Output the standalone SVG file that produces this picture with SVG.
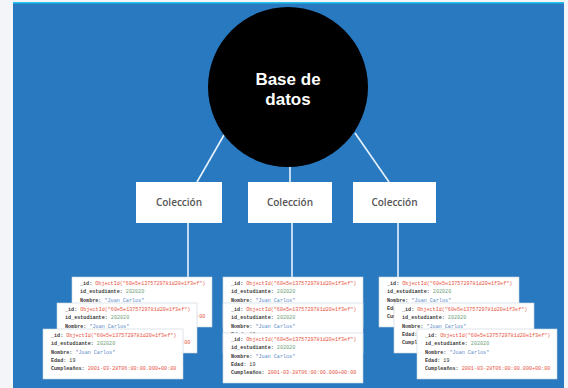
<svg xmlns="http://www.w3.org/2000/svg" width="568" height="388" viewBox="0 0 568 388">
<defs>
<style>
.conn{stroke:#e6f2fb;stroke-width:1.6;fill:none}
.box{fill:#ffffff}
.lbl{font-family:"Open Sans","Liberation Sans",sans-serif;font-size:10px;font-weight:600;fill:#555555;text-anchor:middle}
.card{fill:#ffffff;stroke:#c9d3dd;stroke-width:0.6}
.doc{font-family:"Liberation Mono","DejaVu Sans Mono",monospace;font-size:5.1px;fill:#3a3a3a}
.k{font-weight:bold}
.r{fill:#e8553f}
.g{fill:#6f9f7a}
.b{fill:#5b8bc7}
.big{font-family:"Liberation Sans",Arial,sans-serif;font-size:17px;font-weight:bold;fill:#ffffff;text-anchor:middle}
</style>
<g id="docTpl">
<rect class="card" x="0" y="0" width="140" height="50"/>
<text class="doc" x="8" y="8"><tspan class="k">_id:</tspan> <tspan class="r">ObjectId("60e5e1375729781d20e1f3ef")</tspan></text>
<text class="doc" x="8" y="16.3"><tspan class="k">id_estudiante:</tspan> <tspan class="g">202020</tspan></text>
<text class="doc" x="8" y="24.6"><tspan class="k">Nombre:</tspan> <tspan class="b">"Juan Carlos"</tspan></text>
<text class="doc" x="8" y="32.9"><tspan class="k">Edad:</tspan> 19</text>
<text class="doc" x="8" y="41.2"><tspan class="k">Cumpleaños:</tspan> <tspan class="r">2001-03-28T06:00:00.000+00:00</tspan></text>
</g>
</defs>
<rect x="0" y="0" width="568" height="388" fill="#f4f5f9"/>
<rect x="13" y="2" width="551" height="386" fill="#2979c1"/>
<rect x="13" y="2" width="551" height="1.5" fill="#22c3ea"/>

<g id="connectors">
<line class="conn" x1="224" y1="135" x2="197" y2="182"/>
<line class="conn" x1="290" y1="166" x2="290" y2="182"/>
<line class="conn" x1="355" y1="133" x2="389" y2="182"/>
<line class="conn" x1="188" y1="223" x2="188" y2="277"/>
<line class="conn" x1="292" y1="223" x2="292" y2="277"/>
<line class="conn" x1="398" y1="223" x2="398" y2="277"/>
</g>

<g id="db">
<circle cx="288" cy="87" r="80" fill="#000000"/>
<text class="big" x="288" y="85">Base de</text>
<text class="big" x="288" y="104.5">datos</text>
</g>

<g id="col1"><rect class="box" x="136" y="182" width="86" height="41"/><text class="lbl" x="179" y="206">Colección</text></g>
<g id="col2"><rect class="box" x="248" y="182" width="84" height="41"/><text class="lbl" x="290" y="206">Colección</text></g>
<g id="col3"><rect class="box" x="353" y="182" width="83" height="41"/><text class="lbl" x="394.5" y="206">Colección</text></g>

<g id="docs1">
<use href="#docTpl" x="72" y="277"/>
<use href="#docTpl" x="57" y="303"/>
<use href="#docTpl" x="43" y="329"/>
</g>
<g id="docs2">
<use href="#docTpl" x="223" y="277"/>
<use href="#docTpl" x="223" y="303"/>
<use href="#docTpl" x="223" y="333"/>
</g>
<g id="docs3">
<use href="#docTpl" x="379" y="277"/>
<use href="#docTpl" x="394" y="303"/>
<use href="#docTpl" x="417" y="329"/>
</g>
</svg>
